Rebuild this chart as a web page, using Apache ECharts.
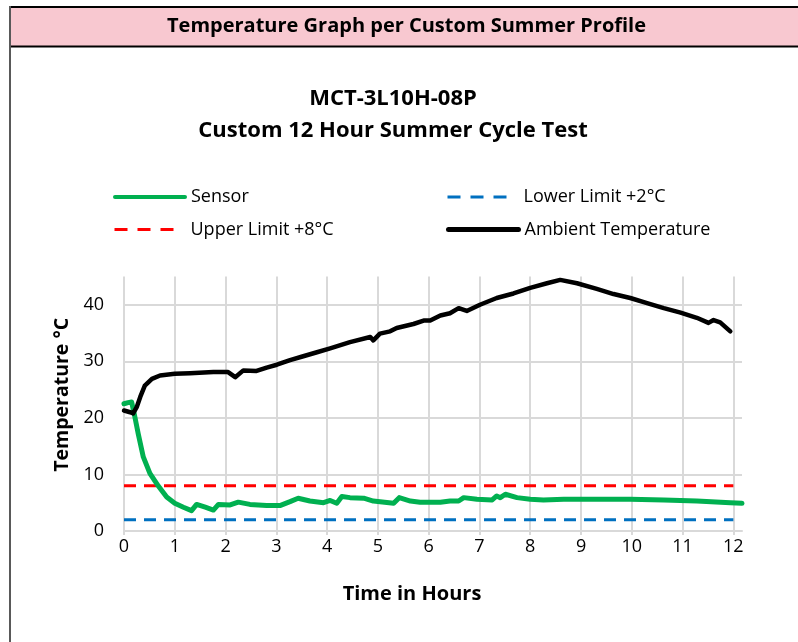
<!DOCTYPE html>
<html>
<head>
<meta charset="utf-8">
<title>Temperature Graph per Custom Summer Profile</title>
<script src="https://cdn.jsdelivr.net/npm/echarts@6/dist/echarts.min.js"></script>
<style>
  html, body { margin: 0; padding: 0; background: #fff; }
  #chart { width: 798px; height: 642px; }
</style>
</head>
<body>
<div id="chart"></div>
<script>
// hours / °C
const sensorHours = [0, 0.08, 0.15, 0.2, 0.28, 0.38, 0.51, 0.68, 0.84, 1.0, 1.17, 1.33, 1.43, 1.6, 1.76, 1.86,
  2.09, 2.25, 2.48, 2.81, 3.07, 3.27, 3.43, 3.66, 3.93, 4.06, 4.19, 4.29, 4.45, 4.72, 4.91, 5.31, 5.42,
  5.64, 5.83, 6.23, 6.42, 6.59, 6.69, 6.95, 7.25, 7.34, 7.41, 7.51, 7.74, 8.0, 8.26, 8.66, 9.31, 9.97,
  10.63, 11.28, 11.94, 12.17];
const sensorTemp = [22.5, 22.7, 22.8, 20.8, 17.2, 13.1, 10.2, 7.9, 6.0, 4.9, 4.2, 3.6, 4.7, 4.2, 3.7, 4.7,
  4.6, 5.1, 4.7, 4.5, 4.5, 5.2, 5.8, 5.3, 5.0, 5.4, 4.9, 6.1, 5.9, 5.8, 5.3, 4.9, 5.9,
  5.3, 5.1, 5.1, 5.3, 5.3, 5.9, 5.6, 5.5, 6.2, 5.9, 6.5, 5.9, 5.6, 5.5, 5.6, 5.6, 5.6,
  5.5, 5.3, 5.0, 4.9];

const ambientHours = [0, 0.12, 0.18, 0.25, 0.32, 0.41, 0.55, 0.71, 1.0, 1.3, 1.76, 2.05, 2.19, 2.35, 2.61,
  2.81, 3.01, 3.27, 3.53, 3.8, 4.06, 4.45, 4.85, 4.91, 5.04, 5.24, 5.37, 5.7, 5.9, 6.03, 6.23, 6.42,
  6.59, 6.75, 7.01, 7.34, 7.67, 8.0, 8.33, 8.59, 8.92, 9.31, 9.64, 9.97, 10.3, 10.63, 10.96, 11.28,
  11.51, 11.61, 11.74, 11.94];
const ambientTemp = [21.3, 21.0, 20.8, 21.9, 23.7, 25.7, 26.9, 27.5, 27.8, 27.9, 28.1, 28.1, 27.2, 28.4, 28.3,
  28.9, 29.4, 30.2, 30.9, 31.6, 32.3, 33.4, 34.3, 33.7, 34.9, 35.3, 35.9, 36.6, 37.2, 37.2, 38.1, 38.5,
  39.4, 38.9, 40.0, 41.2, 42.0, 43.0, 43.8, 44.4, 43.8, 42.8, 41.9, 41.2, 40.3, 39.4, 38.6, 37.7,
  36.8, 37.3, 36.9, 35.3];

const limitHours = [0, 12];
const upperLimit = [8, 8];
const lowerLimit = [2, 2];

const seriesNames = ['Sensor', 'Lower Limit +2°C', 'Upper Limit +8°C', 'Ambient Temperature'];

const FONT = '"Open Sans", "Noto Sans", sans-serif';

function pairs(xs, ys) {
  return xs.map((x, i) => [x, ys[i]]);
}

// one legend per entry so the 2x2 layout can be placed exactly
function legendAt(name, left, top, lineStyle, iconWidth) {
  return {
    data: [name],
    left: left,
    top: top,
    padding: 0,
    itemWidth: iconWidth,
    itemHeight: 14,
    itemGap: 0,
    selectedMode: false,
    itemStyle: { opacity: 0 },
    lineStyle: lineStyle,
    textStyle: { fontFamily: FONT, fontSize: 18, color: '#000', padding: [0, 0, 0, 71 - iconWidth] }
  };
}

const chart = echarts.init(document.getElementById('chart'));

chart.setOption({
  backgroundColor: '#fff',
  animation: false,
  graphic: [
    { type: 'rect', shape: { x: 10, y: 7, width: 788, height: 39 }, style: { fill: '#f8c8d0' } },
    { type: 'line', shape: { x1: 9, y1: 7, x2: 798, y2: 7 }, style: { stroke: '#000', lineWidth: 2 } },
    { type: 'line', shape: { x1: 9, y1: 46.5, x2: 798, y2: 46.5 }, style: { stroke: '#000', lineWidth: 2 } },
    { type: 'line', shape: { x1: 10, y1: 6, x2: 10, y2: 642 }, style: { stroke: '#595959', lineWidth: 2 } },
    {
      type: 'text', left: 167, top: 16,
      style: { text: 'Temperature Graph per Custom Summer Profile', font: 'bold 20px ' + FONT, fill: '#000' }
    }
  ],
  title: {
    text: 'MCT-3L10H-08P\nCustom 12 Hour Summer Cycle Test',
    left: 388,
    top: 78,
    textAlign: 'center',
    textStyle: { fontFamily: FONT, fontWeight: 'bold', fontSize: 22, lineHeight: 32, color: '#000' }
  },
  legend: [
    legendAt(seriesNames[0], 113, 188, { width: 4 }, 70),
    legendAt(seriesNames[1], 446, 188, { width: 3, type: [13, 10] }, 60),
    legendAt(seriesNames[2], 113, 220.5, { width: 3, type: [13, 10] }, 60),
    legendAt(seriesNames[3], 446, 220.5, { width: 5 }, 70)
  ],
  grid: { left: 124, right: 56, top: 276.5, bottom: 111 },
  xAxis: {
    type: 'value',
    min: 0,
    max: 12.17,
    interval: 1,
    name: 'Time in Hours',
    nameLocation: 'middle',
    nameGap: 53,
    nameTextStyle: { fontFamily: FONT, fontWeight: 'bold', fontSize: 20, color: '#000', padding: [0, 42, 0, 0] },
    axisLine: { show: true, lineStyle: { color: '#d9d9d9', width: 2 } },
    axisTick: { show: true, length: 4, lineStyle: { color: '#d9d9d9', width: 2 } },
    axisLabel: { fontFamily: FONT, fontSize: 18, color: '#000', margin: 7, showMaxLabel: false },
    splitLine: { show: true, showMaxLine: false, lineStyle: { color: '#d9d9d9', width: 2 } }
  },
  yAxis: {
    type: 'value',
    min: 0,
    max: 45,
    interval: 10,
    name: 'Temperature °C',
    nameLocation: 'middle',
    nameGap: 50,
    nameTextStyle: { fontFamily: FONT, fontWeight: 'bold', fontSize: 19.5, color: '#000', padding: [0, 0, 0, 18] },
    axisLine: { show: false },
    axisTick: { show: false },
    axisLabel: { fontFamily: FONT, fontSize: 18, color: '#000', margin: 20, showMaxLabel: false },
    splitLine: { show: true, showMaxLine: false, lineStyle: { color: '#d9d9d9', width: 2 } }
  },
  series: [
    {
      name: seriesNames[0],
      type: 'line',
      data: pairs(sensorHours, sensorTemp),
      symbol: 'none',
      z: 4,
      lineStyle: { color: '#00b050', width: 5, cap: 'round', join: 'round' },
      itemStyle: { color: '#00b050' }
    },
    {
      name: seriesNames[1],
      type: 'line',
      data: pairs(limitHours, lowerLimit),
      symbol: 'none',
      z: 3,
      lineStyle: { color: '#0070c0', width: 3, type: [12, 8] },
      itemStyle: { color: '#0070c0' }
    },
    {
      name: seriesNames[2],
      type: 'line',
      data: pairs(limitHours, upperLimit),
      symbol: 'none',
      z: 3,
      lineStyle: { color: '#ff0000', width: 3, type: [12, 8] },
      itemStyle: { color: '#ff0000' }
    },
    {
      name: seriesNames[3],
      type: 'line',
      data: pairs(ambientHours, ambientTemp),
      symbol: 'none',
      z: 5,
      lineStyle: { color: '#000000', width: 4.5, cap: 'round', join: 'round' },
      itemStyle: { color: '#000000' }
    }
  ]
});
</script>
</body>
</html>
